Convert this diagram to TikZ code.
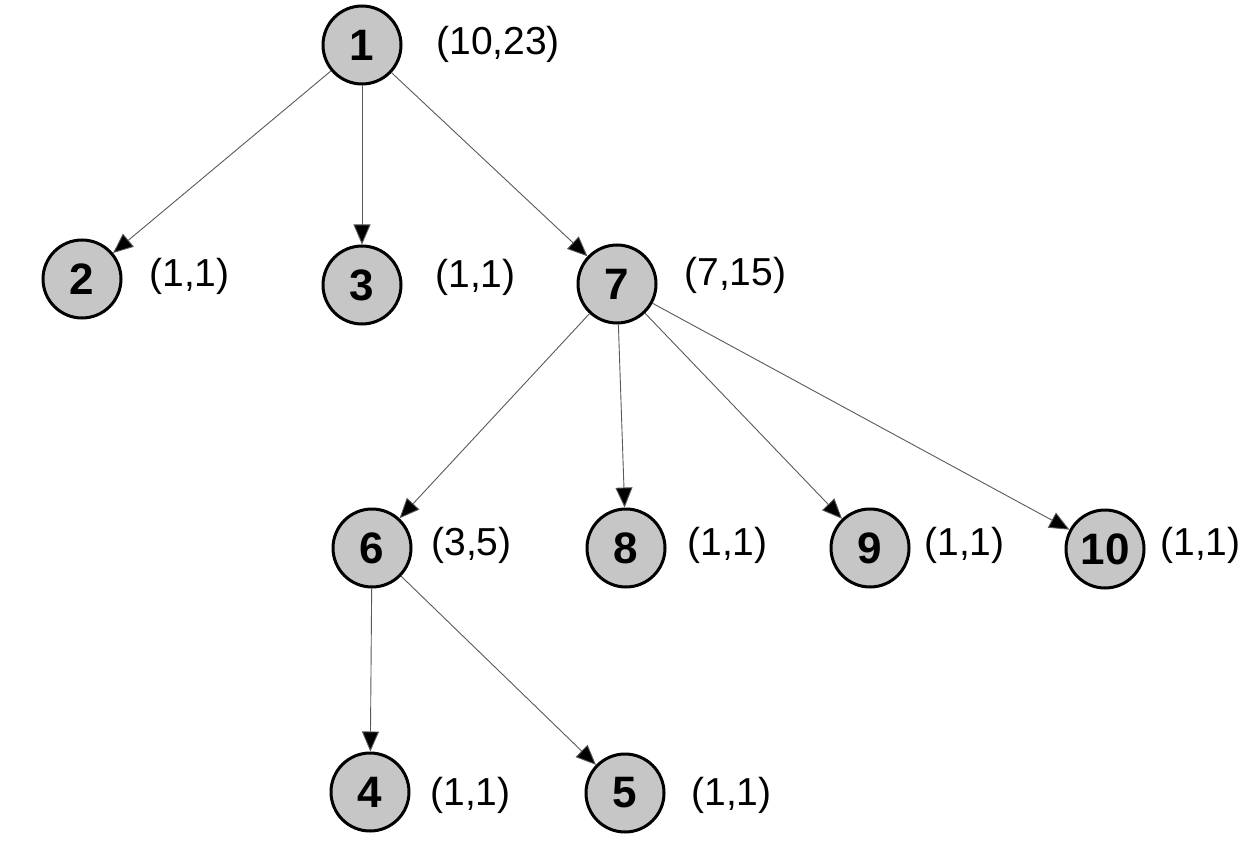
\documentclass[tikz,border=0pt]{standalone}
\usepackage{fontspec}
\setmainfont{Liberation Sans}
\usepackage{tikz}
\usetikzlibrary{arrows.meta}

\begin{document}
\begin{tikzpicture}[
  x=0.5pt, y=-0.5pt,
  vert/.style={circle, draw=black, line width=1.5pt, fill=gray!45,
    minimum size=39pt, inner sep=0pt, font=\fontsize{22}{25}\selectfont\bfseries},
  info/.style={anchor=west, inner sep=0pt, font=\fontsize{19.5}{23}\selectfont},
  edge/.style={draw=black!65, line width=0.45pt,
    -{Triangle[length=10pt, width=8.5pt, fill=black]}}
]
  \useasboundingbox (0,0) rectangle (1240,844);

  % Vertices (name/x/y)
  \foreach \n/\x/\y in {
    1/362/45, 2/82/279, 3/362/285, 7/617/284,
    6/372/548, 8/626/548, 9/870/548, 10/1105/549,
    4/370/792, 5/625/793%
  }{
    \node[vert] (n\n) at (\x,\y) {\n};
  }

  % (size,weight) labels
  \node[info] (l1)  at (436,44)   {(10,23)};
  \node[info] (l2)  at (149,276)  {(1,1)};
  \node[info] (l3)  at (435,277)  {(1,1)};
  \node[info] (l7)  at (684,275)  {(7,15)};
  \node[info] (l6)  at (431,545)  {(3,5)};
  \node[info] (l8)  at (687,545)  {(1,1)};
  \node[info] (l9)  at (924,545)  {(1,1)};
  \node[info] (l10) at (1160,545) {(1,1)};
  \node[info] (l4)  at (430,795)  {(1,1)};
  \node[info] (l5)  at (691,795)  {(1,1)};

  % Tree edges
  \foreach \a/\b in {1/2, 1/3, 1/7, 7/6, 7/8, 7/9, 7/10, 6/4, 6/5}{
    \draw[edge] (n\a) -- (n\b);
  }
\end{tikzpicture}
\end{document}
